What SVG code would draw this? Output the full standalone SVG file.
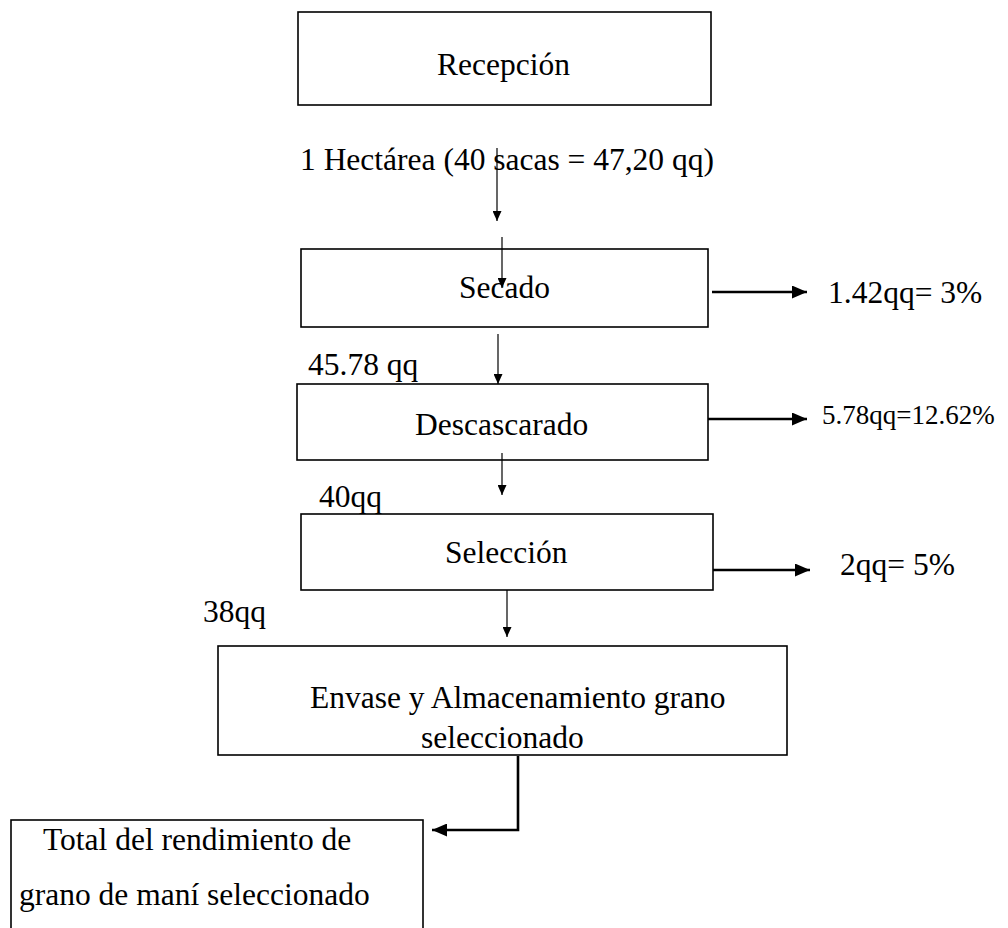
<svg xmlns="http://www.w3.org/2000/svg" width="1008" height="928" viewBox="0 0 1008 928">
  <defs>
    <style>
      .box { fill: none; stroke: #000000; stroke-width: 1.6; }
      .t { font-family: "Liberation Serif", "Times New Roman", serif; font-size: 31.5px; fill: #000000; }
      .thin { fill: none; stroke: #000000; stroke-width: 1.2; }
      .thick { fill: none; stroke: #000000; stroke-width: 2.6; }
    </style>
    <marker id="sm" markerUnits="userSpaceOnUse" markerWidth="10" markerHeight="9" refX="10" refY="4.5" orient="auto">
      <path d="M0,0 L10,4.5 L0,9 z" fill="#000000"/>
    </marker>
    <marker id="lg" markerUnits="userSpaceOnUse" markerWidth="15" markerHeight="13" refX="15" refY="6.5" orient="auto">
      <path d="M0,0 L15,6.5 L0,13 z" fill="#000000"/>
    </marker>
  </defs>
  <rect width="1008" height="928" fill="#ffffff"/>

  <g id="recepcion">
    <rect class="box" x="298" y="12" width="413" height="93"/>
    <text class="t" x="437" y="75">Recepción</text>
  </g>

  <g id="entrada-label">
    <text class="t" x="300" y="170">1 Hectárea (40 sacas = 47,20 qq)</text>
  </g>

  <g id="secado">
    <rect class="box" x="301" y="249" width="407" height="78"/>
    <text class="t" x="459" y="298">Secado</text>
  </g>

  <g id="perdida-secado">
    <text class="t" x="828" y="303">1.42qq= 3%</text>
  </g>

  <g id="label-45">
    <text class="t" x="308" y="375">45.78 qq</text>
  </g>

  <g id="descascarado">
    <rect class="box" x="297" y="384" width="411" height="76"/>
    <text class="t" x="415" y="435">Descascarado</text>
  </g>

  <g id="perdida-descascarado">
    <text class="t" x="822" y="424" style="font-size:27px">5.78qq=12.62%</text>
  </g>

  <g id="label-40">
    <text class="t" x="319" y="507">40qq</text>
  </g>

  <g id="seleccion">
    <rect class="box" x="301" y="514" width="412" height="76"/>
    <text class="t" x="445" y="563">Selección</text>
  </g>

  <g id="perdida-seleccion">
    <text class="t" x="840" y="575">2qq= 5%</text>
  </g>

  <g id="label-38">
    <text class="t" x="203" y="622">38qq</text>
  </g>

  <g id="envase">
    <rect class="box" x="218" y="646" width="569" height="109"/>
    <text class="t" x="310" y="708">Envase y Almacenamiento grano</text>
    <text class="t" x="421" y="748">seleccionado</text>
  </g>

  <g id="total">
    <rect class="box" x="11" y="820" width="412" height="130"/>
    <text class="t" x="43" y="850">Total del rendimiento de</text>
    <text class="t" x="19" y="905">grano de maní seleccionado</text>
  </g>

  <g id="connectors">
    <line class="thin" x1="497" y1="148" x2="497" y2="221" marker-end="url(#sm)"/>
    <line class="thin" x1="502" y1="237" x2="502" y2="288" marker-end="url(#sm)"/>
    <line class="thin" x1="498" y1="334" x2="498" y2="384" marker-end="url(#sm)"/>
    <line class="thin" x1="502" y1="453" x2="502" y2="495" marker-end="url(#sm)"/>
    <line class="thin" x1="507" y1="590" x2="507" y2="637" marker-end="url(#sm)"/>
    <line class="thick" x1="712" y1="292" x2="807" y2="292" marker-end="url(#lg)"/>
    <line class="thick" x1="708" y1="419" x2="807" y2="419" marker-end="url(#lg)"/>
    <line class="thick" x1="713" y1="570" x2="810" y2="570" marker-end="url(#lg)"/>
    <polyline class="thick" points="518,756 518,830 432,830" marker-end="url(#lg)"/>
  </g>
</svg>
